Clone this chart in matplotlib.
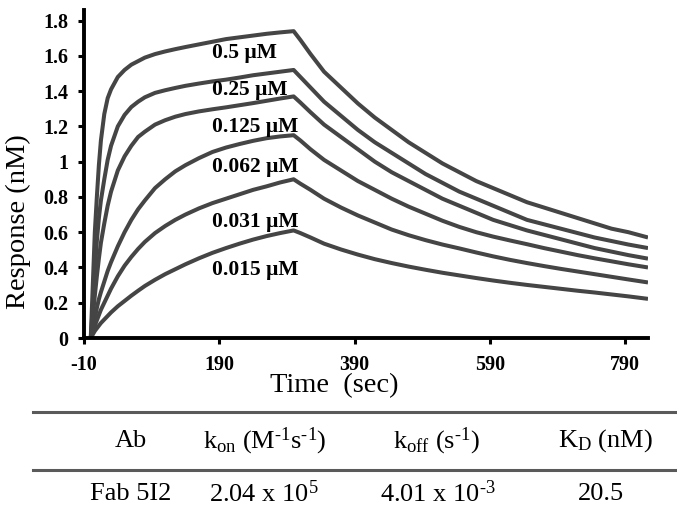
import matplotlib
matplotlib.use("Agg")
import matplotlib.pyplot as plt
from matplotlib.ticker import FuncFormatter

plt.rcParams['font.family'] = ['Liberation Serif', 'DejaVu Serif']
plt.rcParams['mathtext.fontset'] = 'custom'
plt.rcParams['mathtext.rm'] = 'Liberation Serif'
plt.rcParams['mathtext.it'] = 'Liberation Serif:italic'
plt.rcParams['mathtext.bf'] = 'Liberation Serif:bold'
plt.rcParams['axes.unicode_minus'] = False

# ---- data ----
time_s = [0, 3, 6, 9, 12, 15, 20, 25, 30, 40, 50, 60, 70, 80, 95, 110, 125, 140,
          160, 180, 200, 220, 240, 260, 280, 300,
          310, 325, 345, 370, 395, 420, 445, 470, 495, 520, 545, 570, 595, 620,
          645, 670, 695, 720, 745, 770, 795, 824]

conc_labels = ["0.5 \u00b5M", "0.25 \u00b5M", "0.125 \u00b5M",
               "0.062 \u00b5M", "0.031 \u00b5M", "0.015 \u00b5M"]

resp_0500 = [0, 0.30, 0.60, 0.80, 0.98, 1.12, 1.27, 1.36, 1.41, 1.48, 1.52, 1.55, 1.57, 1.59,
             1.61, 1.625, 1.638, 1.65, 1.665, 1.68, 1.695, 1.705, 1.715, 1.725, 1.733, 1.74,
             1.69, 1.61, 1.51, 1.42, 1.33, 1.25, 1.18, 1.11, 1.05, 0.99, 0.94, 0.89, 0.85, 0.81,
             0.77, 0.74, 0.71, 0.68, 0.65, 0.62, 0.60, 0.57]
resp_0250 = [0, 0.18, 0.38, 0.55, 0.68, 0.78, 0.90, 1.01, 1.09, 1.20, 1.265, 1.31, 1.34, 1.365,
             1.39, 1.405, 1.418, 1.43, 1.443, 1.455, 1.465, 1.477, 1.49, 1.50, 1.51, 1.52,
             1.48, 1.42, 1.34, 1.26, 1.18, 1.11, 1.05, 0.99, 0.93, 0.88, 0.83, 0.79, 0.75, 0.71,
             0.67, 0.645, 0.62, 0.595, 0.57, 0.55, 0.53, 0.51]
resp_0125 = [0, 0.12, 0.24, 0.35, 0.45, 0.54, 0.65, 0.75, 0.83, 0.95, 1.03, 1.09, 1.14, 1.17,
             1.21, 1.235, 1.255, 1.27, 1.285, 1.297, 1.308, 1.32, 1.332, 1.345, 1.358, 1.37,
             1.335, 1.28, 1.21, 1.14, 1.07, 1.00, 0.94, 0.89, 0.84, 0.79, 0.75, 0.71, 0.67, 0.64,
             0.61, 0.585, 0.56, 0.535, 0.51, 0.49, 0.47, 0.45]
resp_0062 = [0, 0.06, 0.11, 0.17, 0.22, 0.26, 0.32, 0.38, 0.43, 0.52, 0.60, 0.67, 0.73, 0.78,
             0.85, 0.90, 0.945, 0.98, 1.02, 1.055, 1.08, 1.10, 1.118, 1.133, 1.143, 1.15,
             1.12, 1.07, 1.01, 0.95, 0.89, 0.84, 0.79, 0.745, 0.705, 0.665, 0.63, 0.60, 0.575, 0.553,
             0.532, 0.51, 0.49, 0.47, 0.452, 0.435, 0.418, 0.40]
resp_0031 = [0, 0.035, 0.07, 0.10, 0.13, 0.16, 0.20, 0.24, 0.28, 0.35, 0.41, 0.46, 0.505, 0.545,
             0.595, 0.635, 0.67, 0.70, 0.735, 0.765, 0.79, 0.815, 0.84, 0.86, 0.882, 0.90,
             0.875, 0.84, 0.79, 0.74, 0.695, 0.655, 0.615, 0.583, 0.555, 0.53, 0.508, 0.485, 0.463, 0.443,
             0.425, 0.408, 0.392, 0.377, 0.362, 0.347, 0.332, 0.315]
resp_0015 = [0, 0.02, 0.04, 0.055, 0.07, 0.085, 0.105, 0.125, 0.145, 0.18, 0.21, 0.24, 0.268, 0.295,
             0.33, 0.362, 0.39, 0.418, 0.452, 0.483, 0.51, 0.535, 0.558, 0.578, 0.595, 0.61,
             0.595, 0.57, 0.535, 0.502, 0.473, 0.447, 0.425, 0.405, 0.387, 0.37, 0.355, 0.34, 0.326, 0.313,
             0.301, 0.29, 0.279, 0.268, 0.258, 0.247, 0.236, 0.222]

label_time = [179, 179, 179, 179, 179, 179]
label_resp = [1.59, 1.38, 1.17, 0.94, 0.63, 0.36]

x_ticks = [-10, 190, 390, 590, 790]
y_ticks = [0, 0.2, 0.4, 0.6, 0.8, 1, 1.2, 1.4, 1.6, 1.8]

table_header = ["Ab", r"k$_{\rm on}$ (M$^{\text{-1}}$s$^{\text{-1}}$)",
                r"k$_{\rm off}$ (s$^{\text{-1}}$)", r"K$_{\rm D}$ (nM)"]
table_row = ["Fab 5I2", r"2.04 x 10$^{\text{5}}$", r"4.01 x 10$^{\text{-3}}$", "20.5"]

# ---- figure ----
fig = plt.figure(figsize=(6.77, 5.11), dpi=100)
ax = fig.add_axes([84/677, 1 - 338/511, (648-84)/677, (338-10)/511])

series = [resp_0500, resp_0250, resp_0125, resp_0062, resp_0031, resp_0015]
for s in series:
    ax.plot(time_s, s, color="#454545", lw=2.9, solid_joinstyle='round',
            solid_capstyle='butt')

for lbl, tx, ty in zip(conc_labels, label_time, label_resp):
    ax.text(tx, ty, lbl, fontsize=15.5, fontweight='bold', va='baseline', ha='left')

ax.set_xlim(-10, 824)
ax.set_ylim(0, 1.86)
ax.set_xticks(x_ticks)
ax.set_yticks(y_ticks)
ax.yaxis.set_major_formatter(FuncFormatter(lambda v, p: f"{v:g}"))
for sp in ['top', 'right']:
    ax.spines[sp].set_visible(False)
for sp in ['left', 'bottom']:
    ax.spines[sp].set_linewidth(2.8)
    ax.spines[sp].set_color('black')
ax.tick_params(axis='both', direction='out', length=4, width=2.2, labelsize=14.5)
ax.tick_params(axis='y', pad=7)
ax.tick_params(axis='x', pad=8)
for t in ax.get_xticklabels() + ax.get_yticklabels():
    t.set_fontweight('bold')

fig.text(18/677, 1 - 222/511, "Response (nM)", rotation=90, fontsize=20.5,
         ha='center', va='center')
fig.text(334/677, 1 - 386/511, "Time  (sec)", fontsize=20.5, ha='center', va='center')

# table
y1 = 1 - 412/511
y2 = 1 - 470/511
fig.add_artist(plt.Line2D([33/677, 1.0], [y1, y1], color='#5a5a5a', lw=2.2))
fig.add_artist(plt.Line2D([33/677, 1.0], [y2, y2], color='#5a5a5a', lw=2.2))
head_x = [131, 265, 436, 605]
row_x = [131, 264, 438, 601]
for cx, h in zip(head_x, table_header):
    fig.text(cx/677, 1 - 441/511, h, fontsize=19, ha='center', va='center')
for cx, r in zip(row_x, table_row):
    fig.text(cx/677, 1 - 494/511, r, fontsize=19, ha='center', va='center')

fig.savefig("out.png", dpi=100)
